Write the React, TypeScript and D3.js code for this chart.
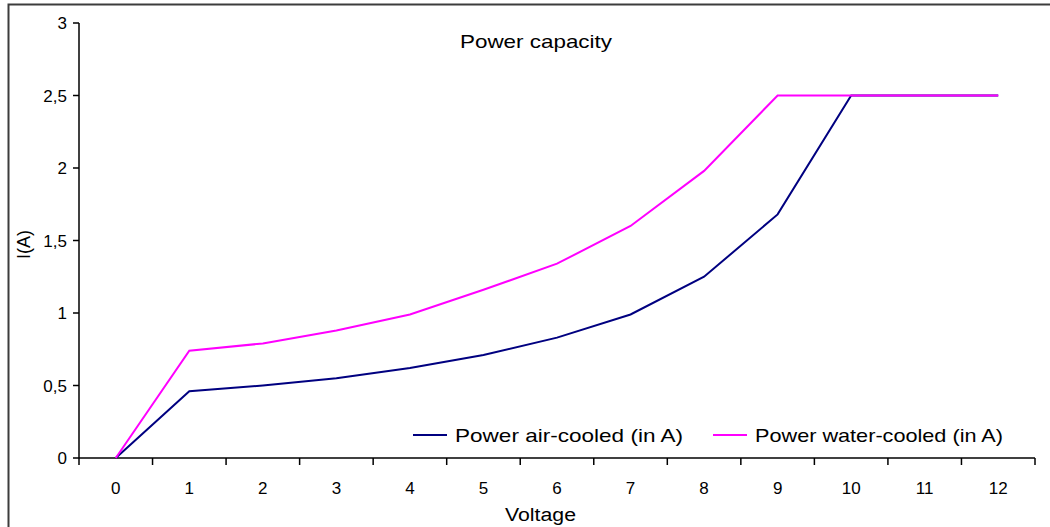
import React from "react";
import * as d3 from "d3";

const voltages = ["0", "1", "2", "3", "4", "5", "6", "7", "8", "9", "10", "11", "12"];
const airCooled = [0, 0.46, 0.5, 0.55, 0.62, 0.71, 0.83, 0.99, 1.25, 1.68, 2.5, 2.5, 2.5];
const waterCooled = [0, 0.74, 0.79, 0.88, 0.99, 1.16, 1.34, 1.6, 1.98, 2.5, 2.5, 2.5, 2.5];
const yTicks = [0, 0.5, 1, 1.5, 2, 2.5, 3];
const seriesNames = ["Power air-cooled (in A)", "Power water-cooled (in A)"];
const seriesColors = ["#000080", "#ff00ff"];
// the old chart's text is drawn a bit wider than Arial
const legendWidths = [228, 248];

const W = 1050;
const H = 527;
const left = 79;
const right = 1035;
const top = 23;
const bottom = 458;
const font = "'Liberation Sans', Arial, sans-serif";

const App = () => {
    const x = d3.scaleBand().domain(voltages).range([left, right]).padding(0);
    const y = d3.scaleLinear().domain([0, 3]).range([bottom, top]);
    const fmt = (v) => String(v).replace(".", ",");

    const line = d3
        .line<number>()
        .x((d, i) => x(voltages[i]) + x.bandwidth() / 2)
        .y((d) => y(d));

    const series = [airCooled, waterCooled];
    // band edges for the category ticks
    const edges = voltages.map((v) => x(v)).concat([right]);

    return (
        <svg width={W} height={H} style={{ position: "absolute", left: 0, top: 0, background: "#fff" }}>
            <rect x={8.5} y={4.5} width={1100} height={600} fill="#fff" stroke="#3c3c3c" strokeWidth={2} />

            <text x={460} y={48} textLength={152} lengthAdjust="spacingAndGlyphs" fontFamily={font} fontSize={19} fill="#000">
                Power capacity
            </text>

            {/* y axis */}
            <line x1={left} x2={left} y1={top} y2={bottom} stroke="#000" strokeWidth={1.5} />
            {yTicks.map((t) => (
                <g key={t}>
                    <line x1={left - 6} x2={left} y1={y(t)} y2={y(t)} stroke="#000" strokeWidth={1.5} />
                    <text x={left - 12} y={y(t) + 6} textAnchor="end" fontFamily={font} fontSize={17} fill="#000">
                        {fmt(t)}
                    </text>
                </g>
            ))}
            <text
                transform={`translate(30 ${(top + bottom) / 2 + 4}) rotate(-90)`}
                textAnchor="middle"
                fontFamily={font}
                fontSize={18}
                fill="#000"
            >
                I(A)
            </text>

            {/* x axis */}
            <line x1={left} x2={right} y1={bottom} y2={bottom} stroke="#000" strokeWidth={1.5} />
            {edges.map((e, i) => (
                <line key={i} x1={e} x2={e} y1={bottom} y2={bottom + 7} stroke="#000" strokeWidth={1.5} />
            ))}
            {voltages.map((v) => (
                <text key={v} x={x(v) + x.bandwidth() / 2} y={bottom + 36} textAnchor="middle" fontFamily={font} fontSize={17} fill="#000">
                    {v}
                </text>
            ))}
            <text x={505} y={521} textLength={71} lengthAdjust="spacingAndGlyphs" fontFamily={font} fontSize={18} fill="#000">
                Voltage
            </text>

            {series.map((s, i) => (
                <path key={i} d={line(s)} fill="none" stroke={seriesColors[i]} strokeWidth={2} />
            ))}

            {/* legend */}
            {seriesNames.map((n, i) => (
                <g key={n} transform={`translate(${413 + i * 300} 435)`}>
                    <line x1={0} x2={34} y1={0} y2={0} stroke={seriesColors[i]} strokeWidth={2} />
                    <text x={42} y={7} textLength={legendWidths[i]} lengthAdjust="spacingAndGlyphs" fontFamily={font} fontSize={19} fill="#000">
                        {n}
                    </text>
                </g>
            ))}
        </svg>
    );
};

export default App;
